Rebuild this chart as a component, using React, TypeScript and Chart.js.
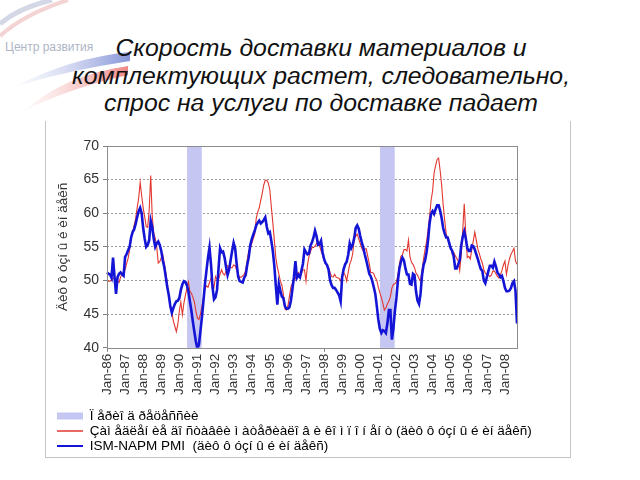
import React, { useEffect, useRef } from "react";
import { Chart, registerables } from "chart.js";

Chart.register(...registerables);

const titleLines = [
  "Скорость доставки материалов и",
  "комплектующих растет, следовательно,",
  "спрос на услуги по доставке падает",
];

const yAxisTitle = "Äèô ô óçí û é èí äåêñ";
const recessionLabel = "Ï åðèî ä ðåöåññèè";
const deliveriesLabel =
  "Çàì åäëåí èå äî ñòàâêè ì àòåðèàëî â è êî ì ï î í åí ò (äèô ô óçí û é èí äåêñ)";
const pmiLabel = "ISM-NAPM PMI  (äèô ô óçí û é èí äåêñ)";

const yearTicks = [
  "Jan-86", "Jan-87", "Jan-88", "Jan-89", "Jan-90", "Jan-91", "Jan-92", "Jan-93",
  "Jan-94", "Jan-95", "Jan-96", "Jan-97", "Jan-98", "Jan-99", "Jan-00", "Jan-01",
  "Jan-02", "Jan-03", "Jan-04", "Jan-05", "Jan-06", "Jan-07", "Jan-08",
];
const monthNames = ["Jan", "Feb", "Mar", "Apr", "May", "Jun", "Jul", "Aug", "Sep", "Oct", "Nov", "Dec"];

// Supplier deliveries index (red), monthly Jan-86 .. Sep-08
const supplierDeliveries = [
  49.9, 49.9, 49.9, 50.1, 50.3, 50.4, 50.1, 49.8, 49.7, 50.5, 51.0, 51.2,
  51.6, 52.5, 53.3, 54.6, 56.2, 57.2, 58.2, 59.2, 60.8, 62.2, 64.6, 62.6,
  60.8, 59.5, 58.0, 57.9, 60.5, 65.6, 59.6, 57.0, 56.3, 55.0, 52.6, 52.8,
  53.4, 53.8, 52.5, 51.2, 49.6, 47.8, 46.0, 45.3, 44.0, 43.2, 42.4, 43.5,
  45.5, 46.8, 44.9, 46.6, 47.8, 48.8, 49.8, 48.4, 48.1, 47.5, 46.8, 45.4,
  44.4, 44.2, 45.0, 46.2, 47.4, 48.8, 49.2, 49.0, 49.7, 50.3, 49.5, 49.0,
  50.6, 50.2, 50.2, 50.9, 51.6, 51.0, 50.8, 51.4, 52.2, 52.0, 51.9, 51.9,
  52.3, 52.2, 51.6, 50.9, 50.5, 50.5, 50.7, 50.9, 51.5, 53.0, 54.4, 54.8,
  55.5, 56.2, 56.9, 59.2, 60.2, 60.8, 61.9, 63.0, 64.2, 64.9, 64.9, 64.5,
  63.5, 61.0, 58.6, 56.0, 53.4, 52.0, 51.0, 49.9, 49.3, 48.0, 45.8, 45.6,
  46.2, 47.6, 49.0, 49.6, 50.0, 50.3, 51.0, 51.2, 50.5, 51.0, 51.6, 51.6,
  49.9, 52.3, 53.6, 54.3, 54.9, 54.9, 55.1, 55.5, 55.9, 55.2, 54.4, 53.8,
  53.0, 52.6, 52.2, 51.9, 51.2, 50.6, 50.5, 50.9, 50.5, 50.4, 50.3, 49.9,
  50.7, 51.2, 50.8, 49.9, 51.2, 52.4, 53.0, 54.0, 56.2, 56.6, 56.9, 56.2,
  55.5, 54.8, 54.4, 54.7, 54.7, 53.6, 52.5, 51.2, 51.2, 51.0, 50.4, 50.0,
  49.0, 48.2, 47.5, 46.6, 45.6, 45.9, 46.5, 46.9, 47.6, 48.9, 49.4, 49.5,
  49.8, 50.8, 52.4, 53.6, 53.8, 54.6, 54.6, 54.4, 56.0, 53.5, 52.7, 52.4,
  51.9, 51.1, 50.8, 50.3, 49.9, 51.6, 53.2, 54.6, 55.8, 57.5, 59.5, 61.9,
  63.3, 66.0, 67.1, 68.0, 68.2, 66.4, 64.2, 61.3, 59.0, 57.0, 56.2, 55.4,
  54.9, 54.0, 54.2, 53.7, 53.3, 52.9, 51.5, 53.8, 57.5, 61.4, 57.0, 53.4,
  53.6, 53.2, 54.6, 55.9, 57.2, 56.0, 54.7, 54.0, 53.2, 52.6, 51.6, 51.1,
  50.9, 50.9, 50.6, 50.8, 51.4, 51.4, 51.0, 50.6, 50.4, 50.8, 51.5, 52.3,
  52.9, 50.9, 52.2, 53.2, 53.9, 54.3, 54.8, 52.9, 52.4,
];

// ISM-NAPM PMI (blue), monthly Jan-86 .. Sep-08
const ismPmi = [
  51.2, 51.0, 50.9, 50.4, 53.4, 50.5, 48.0, 50.5, 51.0, 51.2, 50.9, 50.7,
  53.5, 53.9, 54.5, 55.0, 56.4, 57.2, 57.6, 58.4, 59.4, 60.3, 60.8, 60.0,
  57.8, 56.2, 55.0, 55.3, 56.0, 58.9, 58.0, 56.2, 55.0, 55.5, 55.8, 55.3,
  54.4, 53.0, 52.0, 50.5, 49.0, 47.8, 46.2, 45.2, 45.9, 46.5, 46.9, 47.0,
  47.4, 48.6, 49.4, 49.9, 49.8, 49.3, 48.4, 46.9, 45.5, 43.8, 42.3, 40.9,
  39.8, 40.5, 42.5, 44.6, 47.0, 49.5, 51.5, 53.4, 54.9, 52.4, 49.0, 47.2,
  47.5, 48.6, 51.8, 54.8, 54.2, 54.3, 53.4, 52.0, 50.8, 51.6, 53.0, 54.4,
  55.6, 54.8, 52.5, 50.6, 49.9, 49.8, 49.7, 50.4, 50.8, 52.3, 53.4, 55.2,
  56.1, 56.8, 57.4, 58.2, 58.6, 58.9, 58.5, 58.7, 59.0, 59.4, 58.0, 57.0,
  57.2, 55.9, 54.4, 52.2, 49.2, 46.4, 49.5, 48.5, 47.6, 47.4, 46.2, 45.8,
  45.8, 46.0, 47.0, 48.7, 50.5, 52.9, 50.4, 50.8, 50.5, 51.5, 52.5, 54.6,
  54.2, 53.9, 54.0, 55.2, 55.7, 56.4, 57.4, 56.6, 55.3, 55.4, 55.9, 54.2,
  53.2, 52.6, 52.3, 51.6, 50.0, 49.3, 48.9, 48.9, 48.6, 48.2, 47.8, 46.9,
  50.5, 51.7, 52.4, 52.8, 53.8, 55.5, 54.8, 55.3, 56.3, 57.8, 58.2, 57.7,
  56.6, 55.7, 54.9, 53.9, 53.0, 52.0, 51.0, 50.6, 49.9, 49.0, 48.0, 46.2,
  44.2, 42.8, 42.2, 42.6, 42.5, 42.2, 43.6, 45.6, 45.6, 41.2, 42.8, 45.5,
  47.4, 50.0, 51.8, 52.8, 53.4, 53.0, 51.8, 50.9, 50.9, 49.5, 49.4, 51.0,
  50.8, 48.4, 47.0, 46.5, 48.0, 50.8, 52.3, 53.0, 54.2, 56.0, 58.5, 59.9,
  60.3, 59.9, 60.6, 61.2, 61.2, 60.4, 59.3, 57.8, 57.0, 56.4, 56.4, 55.6,
  54.8, 54.4, 53.6, 51.8, 51.8, 52.4, 53.0, 55.2, 56.5, 57.3, 56.3, 54.8,
  54.4, 54.4, 55.2, 55.1, 54.6, 53.9, 53.2, 52.4, 51.7, 51.4, 50.0, 49.6,
  50.5, 51.4, 52.2, 52.2, 51.9, 52.8, 52.1, 51.2, 50.9, 50.5, 50.7, 49.9,
  48.9, 48.4, 48.4, 48.5, 48.9, 49.6, 49.9, 48.5, 43.6,
];

const recessionStart = ["Jul-90", "Mar-01"];
const recessionEnd = ["Mar-91", "Nov-01"];

const yMin = 40;
const yMax = 70;
const yStep = 5;

const categories = yearTicks
  .flatMap((t) => monthNames.map((m) => m + t.slice(3)))
  .slice(0, ismPmi.length);

const recessionBars = categories.map((_, i) => {
  for (let r = 0; r < recessionStart.length; r++) {
    const s = categories.indexOf(recessionStart[r]);
    const e = categories.indexOf(recessionEnd[r]);
    if (i >= s && i <= e) return [yMin, yMax];
  }
  return null;
});

const FONT = "'Liberation Sans', Arial, sans-serif";

const plotBorder = {
  id: "plotBorder",
  afterDatasetsDraw(chart: any) {
    const { ctx, chartArea: a } = chart;
    ctx.save();
    ctx.strokeStyle = "#8c8c8c";
    ctx.lineWidth = 1;
    ctx.strokeRect(
      Math.floor(a.left) + 0.5,
      Math.floor(a.top) + 0.5,
      Math.round(a.right - a.left),
      Math.round(a.bottom - a.top)
    );
    ctx.restore();
  },
};

export default function App() {
  const canvasRef = useRef<HTMLCanvasElement | null>(null);

  useEffect(() => {
    if (!canvasRef.current) return;
    const chart = new Chart(canvasRef.current, {
      type: "line",
      data: {
        labels: categories,
        datasets: [
          {
            type: "bar",
            label: recessionLabel,
            data: recessionBars as any,
            backgroundColor: "#c6c6f2",
            borderWidth: 0,
            barThickness: 2,
            grouped: false,
            order: 3,
          } as any,
          {
            type: "line",
            label: deliveriesLabel,
            data: supplierDeliveries,
            borderColor: "#e2372f",
            backgroundColor: "#e2372f",
            borderWidth: 1.1,
            pointRadius: 0,
            tension: 0,
            order: 2,
          },
          {
            type: "line",
            label: pmiLabel,
            data: ismPmi,
            borderColor: "#1414d6",
            backgroundColor: "#1414d6",
            borderWidth: 2.6,
            pointRadius: 0,
            tension: 0,
            order: 1,
          },
        ],
      },
      options: {
        animation: false,
        responsive: false,
        devicePixelRatio: 1,
        layout: { padding: { left: 10.5, right: 4, top: 25, bottom: 3.25 } },
        plugins: {
          tooltip: { enabled: false },
          legend: {
            position: "bottom",
            align: "start",
            labels: {
              usePointStyle: true,
              pointStyleWidth: 26,
              boxHeight: 7,
              padding: 1.5,
              color: "#000",
              font: { family: FONT, size: 13.5 },
              sort: (a: any, b: any) => a.datasetIndex - b.datasetIndex,
              generateLabels: (c: any) => {
                const items = (Chart.defaults.plugins.legend.labels as any).generateLabels(c);
                return items.map((it: any) => {
                  const ds = c.data.datasets[it.datasetIndex];
                  if (it.datasetIndex === 0) {
                    return { ...it, pointStyle: "rect", lineWidth: 0, fillStyle: ds.backgroundColor, strokeStyle: ds.backgroundColor };
                  }
                  return {
                    ...it,
                    pointStyle: "line",
                    lineWidth: it.datasetIndex === 1 ? 1.3 : 2.2,
                    strokeStyle: ds.borderColor,
                    fillStyle: ds.borderColor,
                  };
                });
              },
            },
          },
        },
        scales: {
          x: {
            type: "category",
            offset: false,
            afterFit: (s: any) => {
              s.height = 60;
            },
            grid: {
              display: true,
              offset: false,
              drawOnChartArea: false,
              drawTicks: true,
              tickLength: 4,
              tickBorderDash: [],
              tickColor: (ctx: any) => (ctx.index % 12 === 0 ? "#808080" : "rgba(0,0,0,0)"),
            },
            border: { display: false },
            ticks: {
              autoSkip: false,
              maxRotation: 90,
              minRotation: 90,
              padding: 2,
              color: "#333",
              font: { family: FONT, size: 13.5 },
              callback: (_v: any, i: number) => (i % 12 === 0 ? categories[i] : null),
            },
          },
          y: {
            min: yMin,
            max: yMax,
            afterFit: (s: any) => {
              s.width = 51.5;
            },
            grid: {
              color: (ctx: any) =>
                ctx.tick && (ctx.tick.value === yMin || ctx.tick.value === yMax)
                  ? "rgba(0,0,0,0)"
                  : "#9a9a9a",
              tickColor: "#808080",
              tickLength: 4,
              tickBorderDash: [],
            },
            border: { display: false, dash: [2, 2] },
            ticks: {
              stepSize: yStep,
              padding: 4,
              color: "#333",
              font: { family: FONT, size: 14 },
            },
            title: {
              display: true,
              text: yAxisTitle,
              color: "#333",
              padding: { top: 0, bottom: 0 },
              font: { family: FONT, size: 13.5 },
            },
          },
          ySpace: {
            type: "linear",
            position: "right",
            display: true,
            min: yMin,
            max: yMax,
            afterFit: (s: any) => {
              s.width = 49;
            },
            grid: { display: false },
            border: { display: false },
            ticks: { display: false },
          },
        },
      },
      plugins: [plotBorder],
    });
    return () => chart.destroy();
  }, []);

  return (
    <div
      style={{
        position: "fixed",
        left: 0,
        top: 0,
        width: 640,
        height: 480,
        background: "#fff",
        overflow: "hidden",
        fontFamily: FONT,
      }}
    >
      <svg width={140} height={125} style={{ position: "absolute", left: 0, top: 0 }}>
        <defs>
          <linearGradient id="gb" x1="1" y1="0" x2="0" y2="0">
            <stop offset="0" stopColor="#7f8fd6" stopOpacity="0.95" />
            <stop offset="1" stopColor="#c9d0ef" stopOpacity="0.1" />
          </linearGradient>
          <linearGradient id="gr" x1="1" y1="0" x2="0" y2="0">
            <stop offset="0" stopColor="#ec7a78" stopOpacity="0.9" />
            <stop offset="1" stopColor="#f6c4c4" stopOpacity="0.1" />
          </linearGradient>
        </defs>
        <path d="M 0 24 Q 18 8 52 0" stroke="#d3d7e6" strokeWidth="5" fill="none" />
        <path d="M 0 36 Q 24 14 68 0" stroke="#f3d3d3" strokeWidth="4" fill="none" />
        <path d="M 130 52 Q 70 58 16 86 Q 70 70 130 61 Z" fill="url(#gb)" />
        <path d="M 128 66 Q 62 76 26 110 Q 70 88 128 75 Z" fill="url(#gr)" />
      </svg>
      <div
        style={{
          position: "absolute",
          left: 5,
          top: 40,
          fontSize: 12,
          color: "#aeb5c6",
          fontFamily: FONT,
        }}
      >
        Центр развития
      </div>
      <div
        style={{
          position: "absolute",
          left: 0,
          top: 34,
          width: 642,
          textAlign: "center",
          fontStyle: "italic",
          fontSize: 24.8,
          lineHeight: "27.5px",
          color: "#111",
          fontFamily: FONT,
        }}
      >
        {titleLines.map((l, i) => (
          <div key={i}>{l}</div>
        ))}
      </div>
      <div
        style={{
          position: "absolute",
          left: 45,
          top: 121,
          width: 526,
          height: 337,
          boxSizing: "border-box",
          borderLeft: "1px solid #c4c4c4",
          borderRight: "1px solid #c4c4c4",
          borderBottom: "1px solid #c4c4c4",
        }}
      />
      <canvas
        ref={canvasRef}
        width={525}
        height={345}
        style={{ position: "absolute", left: 45, top: 121, width: 525, height: 345 }}
      />
    </div>
  );
}
